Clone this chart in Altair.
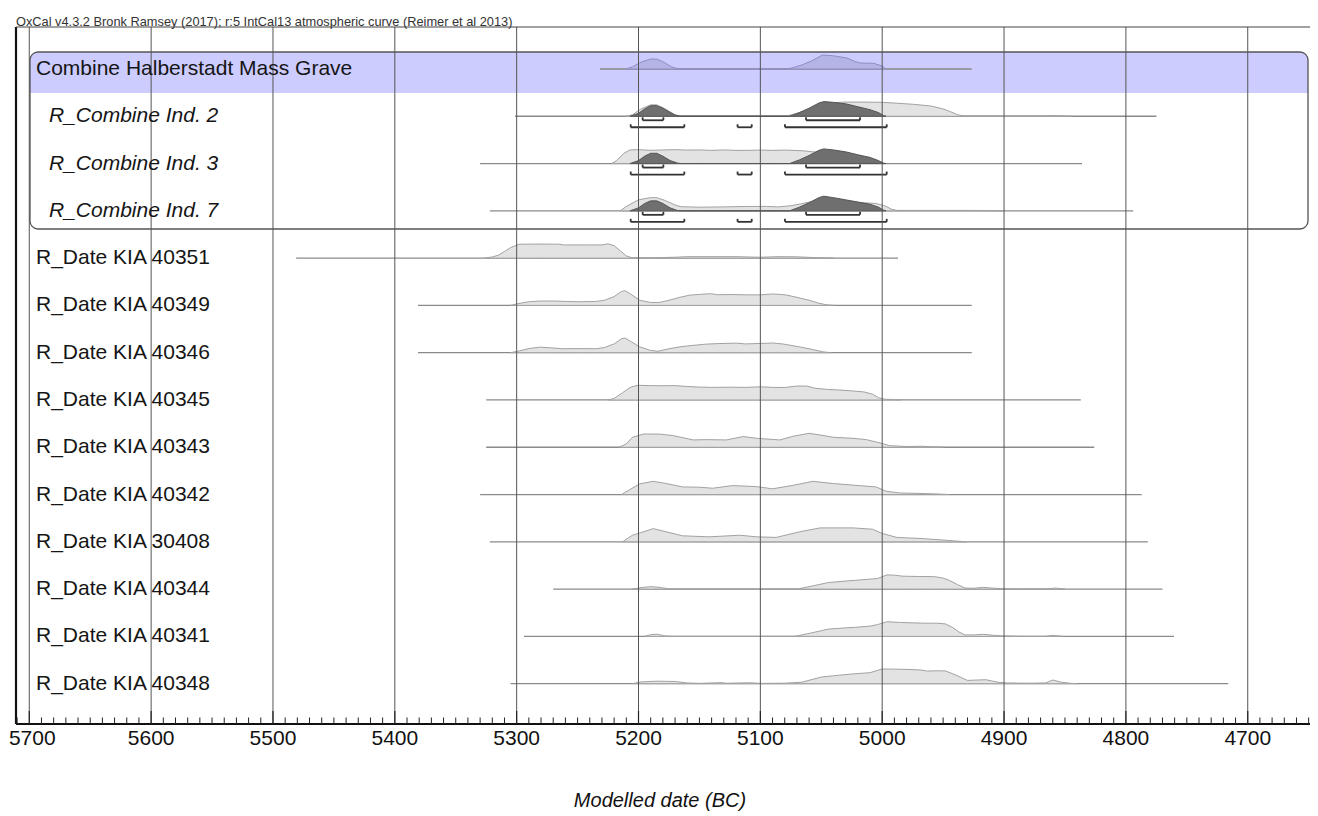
import altair as alt
import pandas as pd

# ---------------- data ----------------
header = "OxCal v4.3.2 Bronk Ramsey (2017); r:5 IntCal13 atmospheric curve (Reimer et al 2013)"
axis_title = "Modelled date (BC)"
row_labels = [
    "Combine Halberstadt Mass Grave", "R_Combine Ind. 2", "R_Combine Ind. 3", "R_Combine Ind. 7",
    "R_Date KIA 40351", "R_Date KIA 40349", "R_Date KIA 40346", "R_Date KIA 40345",
    "R_Date KIA 40343", "R_Date KIA 40342", "R_Date KIA 30408", "R_Date KIA 40344",
    "R_Date KIA 40341", "R_Date KIA 40348",
]
row_italic = [False, True, True, True] + [False] * 10
range_start = [5231.6, 5301.4, 5330, 5322, 5481, 5381, 5381, 5325, 5325, 5330, 5322, 5270, 5294, 5305]
range_end = [4926.5, 4775, 4836, 4794, 4987, 4926.5, 4926.5, 4837, 4826, 4787, 4782, 4770, 4760.5, 4716]

combine_post = [(5210, 0), (5205, 0.15), (5197, 0.5), (5190, 0.68), (5185, 0.68), (5180, 0.5), (5173, 0.15),
                (5168, 0.02), (5160, 0), (5080, 0), (5075, 0.05), (5066, 0.27), (5058, 0.55), (5049, 0.95),
                (5040, 0.9), (5029, 0.75), (5022, 0.5), (5018, 0.41), (5007, 0.39), (5000, 0.2), (4997, 0)]

ind2_like = [(5210, 0), (5205, 0.1), (5198, 0.5), (5190, 0.78), (5185, 0.78), (5178, 0.5), (5170, 0.1),
             (5165, 0.03), (5120, 0.03), (5078, 0.03), (5070, 0.2), (5060, 0.5), (5050, 0.8), (5040, 0.93),
             (5030, 0.97), (5015, 0.97), (5000, 0.95), (4990, 0.9), (4975, 0.82), (4960, 0.7), (4950, 0.5),
             (4945, 0.35), (4938, 0.1), (4933, 0.02), (4880, 0.02), (4866, 0.02), (4862, 0.06), (4855, 0.02),
             (4845, 0)]
ind2_post = [(5207, 0), (5200, 0.2), (5195, 0.5), (5190, 0.72), (5185, 0.72), (5180, 0.55), (5175, 0.3),
             (5170, 0.08), (5166, 0), (5076, 0), (5068, 0.25), (5060, 0.55), (5052, 0.9), (5048, 1.0),
             (5040, 0.95), (5030, 0.85), (5020, 0.65), (5010, 0.45), (5003, 0.25), (4999, 0.05), (4997, 0)]

ind3_like = [(5222, 0), (5218, 0.2), (5212, 0.7), (5207, 0.93), (5200, 0.95), (5190, 0.9), (5180, 0.93),
             (5170, 0.95), (5160, 0.92), (5150, 0.93), (5140, 0.9), (5130, 0.93), (5120, 0.9), (5110, 0.9),
             (5100, 0.92), (5090, 0.9), (5080, 0.92), (5073, 0.9), (5065, 0.87), (5057, 0.8), (5045, 0.72),
             (5035, 0.6), (5025, 0.45), (5015, 0.3), (5005, 0.12), (5000, 0.02), (4998, 0)]
ind3_post = [(5207, 0), (5200, 0.2), (5195, 0.5), (5190, 0.7), (5185, 0.7), (5180, 0.5), (5174, 0.2),
             (5168, 0.03), (5165, 0), (5076, 0), (5068, 0.25), (5060, 0.55), (5052, 0.9), (5048, 1.0),
             (5040, 0.93), (5030, 0.8), (5020, 0.6), (5010, 0.42), (5003, 0.2), (4999, 0.03), (4997, 0)]

ind7_like = [(5215, 0), (5210, 0.3), (5200, 0.75), (5190, 0.9), (5185, 0.9), (5178, 0.7), (5170, 0.4),
             (5165, 0.28), (5150, 0.25), (5130, 0.27), (5110, 0.3), (5095, 0.3), (5085, 0.27), (5075, 0.35),
             (5065, 0.5), (5055, 0.7), (5045, 0.75), (5035, 0.7), (5025, 0.62), (5015, 0.55), (5005, 0.5),
             (4998, 0.35), (4992, 0.1), (4988, 0.03), (4930, 0.03), (4915, 0.02), (4900, 0)]
ind7_post = [(5207, 0), (5200, 0.2), (5195, 0.5), (5190, 0.68), (5185, 0.68), (5180, 0.5), (5174, 0.2),
             (5168, 0.02), (5165, 0), (5076, 0), (5068, 0.25), (5060, 0.55), (5052, 0.9), (5048, 1.0),
             (5040, 0.9), (5030, 0.75), (5020, 0.6), (5010, 0.45), (5003, 0.25), (4999, 0.05), (4997, 0)]

kia40351 = [(5326, 0), (5320, 0.08), (5315, 0.2), (5310, 0.45), (5305, 0.72), (5298, 0.95), (5280, 0.96),
            (5265, 0.95), (5262, 0.9), (5240, 0.9), (5230, 0.9), (5225, 0.97), (5220, 0.85), (5215, 0.5),
            (5210, 0.15), (5205, 0.02), (5200, 0.01), (5190, 0.02), (5170, 0.06), (5160, 0.1), (5120, 0.1),
            (5100, 0.06), (5085, 0.1), (5070, 0.09), (5060, 0.05), (5050, 0.02), (5040, 0)]
kia40349 = [(5305, 0), (5300, 0.1), (5290, 0.25), (5280, 0.3), (5270, 0.3), (5260, 0.27), (5248, 0.25),
            (5235, 0.27), (5228, 0.35), (5220, 0.6), (5214, 0.95), (5211, 1.0), (5206, 0.75), (5199, 0.35),
            (5190, 0.2), (5183, 0.2), (5175, 0.35), (5166, 0.55), (5158, 0.7), (5150, 0.75), (5141, 0.8),
            (5135, 0.73), (5125, 0.74), (5111, 0.72), (5100, 0.72), (5090, 0.78), (5085, 0.76), (5078, 0.7),
            (5070, 0.55), (5060, 0.35), (5052, 0.15), (5045, 0.03), (5040, 0)]
kia40346 = [(5305, 0), (5298, 0.12), (5290, 0.28), (5281, 0.38), (5272, 0.33), (5262, 0.27), (5250, 0.28),
            (5235, 0.27), (5228, 0.35), (5220, 0.6), (5214, 0.95), (5211, 1.0), (5206, 0.75), (5199, 0.4),
            (5190, 0.15), (5184, 0.1), (5176, 0.25), (5166, 0.4), (5155, 0.5), (5145, 0.58), (5135, 0.62),
            (5120, 0.65), (5112, 0.6), (5100, 0.63), (5090, 0.66), (5082, 0.6), (5075, 0.5), (5065, 0.35),
            (5055, 0.18), (5048, 0.05), (5042, 0)]
kia40345 = [(5225, 0), (5220, 0.1), (5213, 0.5), (5207, 0.85), (5201, 1.0), (5190, 0.98), (5180, 0.97),
            (5170, 0.98), (5160, 0.92), (5150, 0.88), (5140, 0.86), (5125, 0.87), (5111, 0.86), (5100, 0.9),
            (5090, 0.86), (5080, 0.85), (5070, 0.95), (5062, 0.95), (5055, 0.8), (5045, 0.72), (5035, 0.68),
            (5025, 0.62), (5015, 0.55), (5008, 0.4), (5003, 0.15), (4998, 0.05), (4990, 0.03), (4985, 0)]
kia40343 = [(5216, 0), (5210, 0.23), (5205, 0.68), (5196, 0.9), (5183, 0.9), (5172, 0.8), (5155, 0.5),
            (5145, 0.52), (5128, 0.5), (5114, 0.73), (5103, 0.61), (5084, 0.5), (5073, 0.75), (5060, 0.95),
            (5051, 0.84), (5040, 0.68), (5024, 0.61), (5013, 0.52), (5002, 0.3), (4994, 0.11), (4980, 0.05),
            (4967, 0.07), (4958, 0.02), (4950, 0)]
kia40342 = [(5214, 0), (5207, 0.34), (5199, 0.73), (5188, 0.9), (5177, 0.75), (5164, 0.52), (5150, 0.5),
            (5139, 0.43), (5123, 0.61), (5103, 0.54), (5090, 0.39), (5073, 0.63), (5057, 0.9), (5040, 0.75),
            (5019, 0.61), (5005, 0.52), (4997, 0.23), (4986, 0.11), (4958, 0.05), (4945, 0)]
kia30408 = [(5213, 0), (5205, 0.45), (5196, 0.68), (5188, 0.9), (5177, 0.68), (5164, 0.41), (5142, 0.34),
            (5117, 0.45), (5103, 0.34), (5087, 0.3), (5068, 0.68), (5051, 0.95), (5024, 0.95), (5008, 0.86),
            (5000, 0.57), (4988, 0.3), (4969, 0.23), (4948, 0.11), (4931, 0)]
kia40344 = [(5205, 0), (5198, 0.1), (5190, 0.17), (5183, 0.12), (5175, 0.02), (5170, 0), (5070, 0),
            (5058, 0.2), (5044, 0.45), (5030, 0.55), (5022, 0.6), (5010, 0.68), (5004, 0.72), (4996, 0.97),
            (4990, 0.95), (4983, 0.88), (4970, 0.86), (4957, 0.85), (4950, 0.75), (4945, 0.6), (4938, 0.3),
            (4932, 0.07), (4925, 0.06), (4917, 0.12), (4910, 0.07), (4900, 0.02), (4890, 0), (4865, 0),
            (4858, 0.07), (4850, 0)]
kia40341 = [(5195, 0), (5190, 0.12), (5185, 0.15), (5178, 0.03), (5172, 0), (5072, 0), (5060, 0.2),
            (5044, 0.5), (5030, 0.58), (5022, 0.62), (5010, 0.7), (5004, 0.8), (4996, 1.0), (4985, 0.95),
            (4978, 0.93), (4965, 0.9), (4955, 0.9), (4948, 0.85), (4942, 0.6), (4937, 0.3), (4932, 0.1),
            (4925, 0.1), (4917, 0.14), (4905, 0.05), (4895, 0.02), (4885, 0), (4866, 0), (4860, 0.07),
            (4852, 0)]
kia40348 = [(5205, 0), (5198, 0.12), (5185, 0.17), (5170, 0.15), (5160, 0.05), (5150, 0.02), (5132, 0.07),
            (5128, 0.03), (5115, 0.05), (5108, 0.06), (5100, 0.02), (5080, 0.03), (5066, 0.1), (5050, 0.45),
            (5035, 0.58), (5022, 0.68), (5010, 0.75), (5000, 1.0), (4990, 0.99), (4978, 0.97), (4968, 0.93),
            (4963, 0.86), (4955, 0.88), (4948, 0.87), (4940, 0.6), (4930, 0.22), (4922, 0.25), (4915, 0.27),
            (4905, 0.1), (4898, 0.05), (4880, 0.03), (4866, 0.05), (4860, 0.25), (4853, 0.1), (4845, 0.02),
            (4840, 0)]

# 68.2% and 95.4% highest-density ranges for the R_Combine rows
range68 = [(5196.6, 5179.6), (5062.5, 5018.2)]
range95 = [(5206.4, 5162.4), (5118.7, 5107.1), (5079.8, 4996.3)]
combine_rows = [1, 2, 3]

grid_years = list(range(4700, 5701, 100))
tick_years = list(range(4650, 5711, 10))

# ---------------- build tables ----------------
H = 0.31  # height of a full-scale distribution, in row units
light_sets = [(2, ind3_like), (1, ind2_like), (3, ind7_like), (4, kia40351), (5, kia40349), (6, kia40346),
              (7, kia40345), (8, kia40343), (9, kia40342), (10, kia30408), (11, kia40344), (12, kia40341),
              (13, kia40348)]
dark_sets = [(1, ind2_post), (2, ind3_post), (3, ind7_post)]


def dist_table(sets):
    recs = []
    for row, pts in sets:
        for yr, d in pts:
            recs.append({"key": str(row), "year": yr, "top": row - H * d, "base": row})
    return pd.DataFrame(recs)


light_df = dist_table(light_sets)
dark_df = dist_table(dark_sets)
purple_df = dist_table([(0, combine_post)])

lines_df = pd.DataFrame({"row": list(range(len(row_labels))), "start": range_start, "end": range_end})
labels_df = pd.DataFrame({"row": list(range(len(row_labels))), "label": row_labels,
                          "italic": row_italic})
br = []
for r in combine_rows:
    for a, b in range68:
        br.append({"row": r, "a": a, "b": b, "y": r + 4 / 47.28, "yc": r + 1 / 47.28})
    for a, b in range95:
        br.append({"row": r, "a": a, "b": b, "y": r + 11 / 47.28, "yc": r + 8 / 47.28})
br_df = pd.DataFrame(br)
grid_df = pd.DataFrame({"year": grid_years, "lab": [str(y) for y in grid_years]})
major_df = pd.DataFrame({"year": [y for y in tick_years if y % 100 == 0]})
minor_df = pd.DataFrame({"year": [y for y in tick_years if y % 100 != 0]})
one = pd.DataFrame({"t": [header], "title": [axis_title]})

# ---------------- scales ----------------
W, Ht = 1294, 697
xscale = alt.Scale(domain=[4648.9, 5710.9], reverse=True, nice=False, zero=False)
yscale = alt.Scale(domain=[-0.888, 13.853], reverse=True, nice=False, zero=False)
FONT = "Liberation Sans"


def X(f):
    return alt.X(f, type="quantitative", scale=xscale, axis=None)


def Y(f):
    return alt.Y(f, type="quantitative", scale=yscale, axis=None)


band = alt.Chart(one).mark_rect(fill="#ccccff", cornerRadiusTopLeft=8, cornerRadiusTopRight=8).encode(
    x=alt.value(14), x2=alt.value(1292), y=alt.value(25), y2=alt.value(66))

baselines = alt.Chart(lines_df).mark_rule(color="#8a8a8a", strokeWidth=1.3).encode(
    x=X("start"), x2="end:Q", y=Y("row"))

purple = alt.Chart(purple_df).mark_area(fill="#b4b4e6", stroke="#8e8ec4", strokeWidth=1).encode(
    x=X("year"), y=Y("top"), y2="base:Q", detail="key:N")

light = alt.Chart(light_df).mark_area(fill="#e3e3e3", stroke="#a2a2a2", strokeWidth=1).encode(
    x=X("year"), y=Y("top"), y2="base:Q", detail="key:N")

dark = alt.Chart(dark_df).mark_area(fill="#6f6f6f", stroke="#555555", strokeWidth=1).encode(
    x=X("year"), y=Y("top"), y2="base:Q", detail="key:N")

br_h = alt.Chart(br_df).mark_rule(color="#333333", strokeWidth=1.8).encode(
    x=X("a"), x2="b:Q", y=Y("y"))
br_l = alt.Chart(br_df).mark_rule(color="#333333", strokeWidth=1.8).encode(
    x=X("a"), y=Y("y"), y2="yc:Q")
br_r = alt.Chart(br_df).mark_rule(color="#333333", strokeWidth=1.8).encode(
    x=X("b"), y=Y("y"), y2="yc:Q")

grid = alt.Chart(grid_df).mark_rule(color="#555555", strokeWidth=1).encode(
    x=X("year"), y=alt.value(0), y2=alt.value(Ht))

left_border = alt.Chart(one).mark_rule(color="#111111", strokeWidth=2.2).encode(
    x=alt.value(0), y=alt.value(0), y2=alt.value(Ht))
top_border = alt.Chart(one).mark_rule(color="#444444", strokeWidth=1).encode(
    x=alt.value(0), x2=alt.value(W), y=alt.value(0))
axis_line = alt.Chart(one).mark_rule(color="#111111", strokeWidth=2).encode(
    x=alt.value(0), x2=alt.value(W), y=alt.value(Ht))

major_ticks = alt.Chart(major_df).mark_rule(color="#222222", strokeWidth=1.2).encode(
    x=X("year"), y=alt.value(Ht), y2=alt.value(Ht - 13))
minor_ticks = alt.Chart(minor_df).mark_rule(color="#222222", strokeWidth=1).encode(
    x=X("year"), y=alt.value(Ht), y2=alt.value(Ht - 6.5))

tick_labels = alt.Chart(grid_df[grid_df["year"] < 5700]).mark_text(
    align="center", baseline="alphabetic", font=FONT, fontSize=21, color="#111111").encode(
    x=X("year"), y=alt.value(Ht + 21), text="lab:N")
# the leftmost label is nudged so the page margin does not cut it
tick_label_first = alt.Chart(grid_df[grid_df["year"] == 5700]).mark_text(
    align="center", baseline="alphabetic", font=FONT, fontSize=21, color="#111111", dx=3).encode(
    x=X("year"), y=alt.value(Ht + 21), text="lab:N")

title = alt.Chart(one).mark_text(
    align="center", baseline="alphabetic", font=FONT, fontSize=20, fontStyle="italic",
    color="#111111").encode(x=alt.value(644), y=alt.value(Ht + 83), text="title:N")

box = alt.Chart(one).mark_rect(fill="#ffffff", fillOpacity=0, stroke="#555555", strokeWidth=1.3,
                               cornerRadius=8).encode(
    x=alt.value(14), x2=alt.value(1292), y=alt.value(25), y2=alt.value(202))

lab_plain = alt.Chart(labels_df[~labels_df["italic"]]).mark_text(
    align="left", baseline="middle", font=FONT, fontSize=21, color="#151515").encode(
    x=alt.value(20), y=Y("row"), text="label:N")
lab_ital = alt.Chart(labels_df[labels_df["italic"]]).mark_text(
    align="left", baseline="middle", font=FONT, fontSize=21, fontStyle="italic",
    color="#151515").encode(
    x=alt.value(33), y=Y("row"), text="label:N")

head = alt.Chart(one).mark_text(align="left", baseline="alphabetic", font=FONT, fontSize=12.8,
                                color="#333333").encode(
    x=alt.value(0), y=alt.value(-1), text="t:N")

chart = alt.layer(
    band, baselines, purple, light, dark, br_h, br_l, br_r, grid, left_border, top_border, axis_line,
    major_ticks, minor_ticks, tick_labels, tick_label_first, title, box, lab_plain, lab_ital, head
).properties(
    width=W, height=Ht, autosize=alt.AutoSizeParams(type="none"),
    padding={"left": 8, "top": 19, "right": 0, "bottom": 88}
).configure_view(stroke=None)

chart.save("out.html", embed_options={"renderer": "svg", "actions": False})
